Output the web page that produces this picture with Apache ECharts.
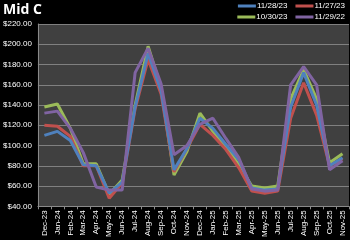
<!DOCTYPE html>
<html><head><meta charset="utf-8">
<script src="https://cdn.jsdelivr.net/npm/echarts@6/dist/echarts.min.js"></script>
<style>html,body{margin:0;padding:0;background:#000;}#c{width:350px;height:240px;}</style>
</head><body><div id="c"></div>
<script>
var categories = ["Dec-23","Jan-24","Feb-24","Mar-24","Apr-24","May-24","Jun-24","Jul-24","Aug-24","Sep-24","Oct-24","Nov-24","Dec-24","Jan-25","Feb-25","Mar-25","Apr-25","May-25","Jun-25","Jul-25","Aug-25","Sep-25","Oct-25","Nov-25"];
var s112823 = [110,114,105,81,80,53,64,138,191,154,76,97,127,117,101,86,58,56,57,138,172,140,80,88];
var s112723 = [120,119,109,80,80,48,63,136,185,151,74,97,121,110,96,78,55,53,55,127,162,130,80,87];
var s103023 = [138,141,117,82,82,52,66,140,198,157,71,94,132,114,99,81,60,58,60,146,175,146,83,92];
var s112922 = [132,134,117,93,59,56,56,172,196,161,91,100,121,127,107,88,57,55,56,160,178,160,76,85];
var names = ["11/28/23","11/27/23","10/30/23","11/29/22"];
var colors = ["#4F81BD","#C0504D","#9BBB59","#8064A2"];
var seriesData = [s112823, s112723, s103023, s112922];

var chart = echarts.init(document.getElementById('c'), null, {renderer:'canvas'});
var series = seriesData.map(function(d,i){
  return {name:names[i], type:'line', data:d, symbol:'none', smooth:false,
    lineStyle:{width:3, color:colors[i]}, itemStyle:{color:colors[i]}, z: i===3?5:(4-i)};
});
var legendCommon = {icon:'rect', itemWidth:18, itemHeight:3, itemGap:8, padding:0, width:200,
  textStyle:{color:'#fff', fontSize:8, fontFamily:'Liberation Sans', padding:[0,0,0,-4]}, orient:'horizontal'};
chart.setOption({
  backgroundColor:'#000',
  animation:false,
  title:{text:'Mid C', left:3, top:3, padding:0, textStyle:{color:'#fff', fontSize:14, fontWeight:'bold', fontFamily:'Open Sans'}},
  legend:[
    Object.assign({data:[names[0],names[1]], right:5, top:2}, legendCommon),
    Object.assign({data:[names[2],names[3]], right:5, top:13}, legendCommon)
  ],
  grid:{left:36, right:1, top:24, bottom:31, show:true, backgroundColor:'#404040', borderWidth:0},
  xAxis:{type:'category', data:categories, boundaryGap:true,
    axisLine:{lineStyle:{color:'#8a8a8a'}},
    axisTick:{show:true, length:3, lineStyle:{color:'#8a8a8a'}},
    axisLabel:{rotate:90, color:'#fff', fontSize:8, interval:0, margin:4, fontFamily:'Liberation Sans'}},
  yAxis:{type:'value', min:40, max:220, interval:20,
    axisLine:{show:true, lineStyle:{color:'#8a8a8a'}},
    splitLine:{lineStyle:{color:'#808080', width:1}},
    axisLabel:{color:'#fff', fontSize:8, margin:6, fontFamily:'Liberation Sans',
      formatter:function(v){return '$'+v.toFixed(2);}}},
  series:series
});
</script></body></html>
